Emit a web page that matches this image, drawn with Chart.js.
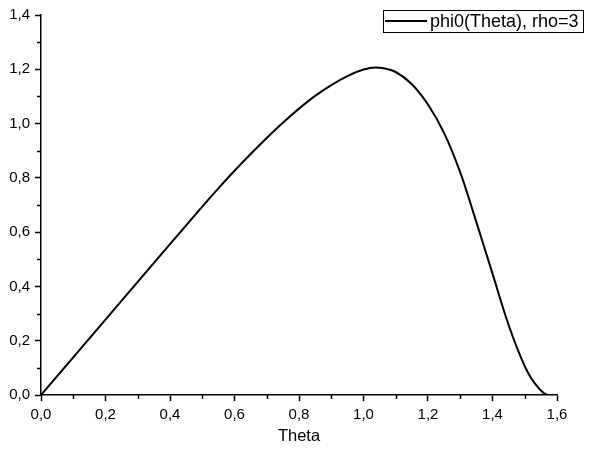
<!DOCTYPE html>
<html>
<head>
<meta charset="utf-8">
<script src="https://cdn.jsdelivr.net/npm/chart.js@4"></script>
<style>
    body { margin: 0; background: #fff; }
</style>
</head>
<body>
<canvas id="phiChart" width="589" height="452"></canvas>
<script>
// phi0(Theta), rho=3
const thetaValues = [0, 0.2, 0.4, 0.45, 0.5, 0.55, 0.6, 0.65, 0.7, 0.75, 0.8, 0.85, 0.9, 0.95, 1.0, 1.035, 1.07, 1.1, 1.15, 1.2, 1.25, 1.3, 1.35, 1.4, 1.45, 1.5, 1.52, 1.54, 1.55, 1.56, 1.57];
const phiValues = [0, 0.278, 0.556, 0.625, 0.694, 0.761, 0.826, 0.888, 0.947, 1.003, 1.055, 1.102, 1.142, 1.175, 1.199, 1.207, 1.202, 1.19, 1.145, 1.07, 0.965, 0.82, 0.637, 0.447, 0.258, 0.106, 0.062, 0.03, 0.017, 0.006, 0];
const seriesLabel = "phi0(Theta), rho=3";
const xTitle = "Theta";

const FONT = "'Liberation Sans', Arial, sans-serif";

const points = thetaValues.map((t, i) => ({ x: t, y: phiValues[i] }));

// 小目盛は 0.1 刻みの奇数番目
function isMajor(v) {
    return Math.round(v * 10) % 2 === 0;
}

function commaLabel(v) {
    return isMajor(v) ? v.toFixed(1).replace(".", ",") : "";
}

// 短い小目盛
const minorTicks = {
    id: "minorTicks",
    afterDraw(chart) {
        const ctx = chart.ctx;
        const xs = chart.scales.x;
        const ys = chart.scales.y;
        ctx.save();
        ctx.strokeStyle = "#000";
        ctx.lineWidth = 1.5;
        xs.ticks.forEach(t => {
            if (isMajor(t.value)) return;
            const px = Math.round(xs.getPixelForValue(t.value)) + 0.5;
            ctx.beginPath();
            ctx.moveTo(px, chart.chartArea.bottom);
            ctx.lineTo(px, chart.chartArea.bottom + 4);
            ctx.stroke();
        });
        ys.ticks.forEach(t => {
            if (isMajor(t.value)) return;
            const py = Math.round(ys.getPixelForValue(t.value)) + 0.5;
            ctx.beginPath();
            ctx.moveTo(chart.chartArea.left, py);
            ctx.lineTo(chart.chartArea.left - 4, py);
            ctx.stroke();
        });
        ctx.restore();
    }
};

// 枠付き凡例
const boxLegend = {
    id: "boxLegend",
    afterDraw(chart) {
        const ctx = chart.ctx;
        ctx.save();
        ctx.strokeStyle = "#000";
        ctx.lineWidth = 1;
        ctx.strokeRect(383.5, 10.5, 200, 22);
        ctx.lineWidth = 2;
        ctx.beginPath();
        ctx.moveTo(385, 21);
        ctx.lineTo(427, 21);
        ctx.stroke();
        ctx.fillStyle = "#000";
        ctx.font = "18px " + FONT;
        ctx.textBaseline = "middle";
        ctx.fillText(seriesLabel, 430, 22);
        ctx.restore();
    }
};

new Chart(document.getElementById("phiChart"), {
    type: "line",
    data: {
        datasets: [
            {
                label: seriesLabel,
                data: points,
                borderColor: "#000",
                borderWidth: 2,
                pointRadius: 0,
                cubicInterpolationMode: "monotone",
                fill: false
            }
        ]
    },
    options: {
        responsive: false,
        animation: false,
        layout: {
            padding: { top: 15, right: 32, left: 0, bottom: 0 }
        },
        plugins: {
            legend: { display: false },
            tooltip: { enabled: false }
        },
        scales: {
            x: {
                type: "linear",
                min: 0,
                max: 1.6,
                afterFit(scale) { scale.height = 57; },
                border: { color: "#000", width: 1.5 },
                grid: {
                    drawOnChartArea: false,
                    drawTicks: true,
                    tickLength: 6,
                    tickWidth: 1.5,
                    tickColor: c => isMajor(c.tick.value) ? "#000" : "rgba(0,0,0,0)"
                },
                ticks: {
                    stepSize: 0.1,
                    autoSkip: false,
                    maxRotation: 0,
                    padding: 5,
                    color: "#000",
                    font: { family: FONT, size: 15 },
                    callback: commaLabel
                },
                title: {
                    display: true,
                    text: xTitle,
                    color: "#000",
                    font: { family: FONT, size: 16.5 },
                    padding: { top: 4, bottom: 6 }
                }
            },
            y: {
                type: "linear",
                min: 0,
                max: 1.4,
                afterFit(scale) { scale.width = 41; },
                border: { color: "#000", width: 1.5 },
                grid: {
                    drawOnChartArea: false,
                    drawTicks: true,
                    tickLength: 6,
                    tickWidth: 1.5,
                    tickColor: c => isMajor(c.tick.value) ? "#000" : "rgba(0,0,0,0)"
                },
                ticks: {
                    stepSize: 0.1,
                    autoSkip: false,
                    padding: 5,
                    color: "#000",
                    font: { family: FONT, size: 15 },
                    callback: commaLabel
                }
            }
        }
    },
    plugins: [minorTicks, boxLegend]
});
</script>
</body>
</html>
